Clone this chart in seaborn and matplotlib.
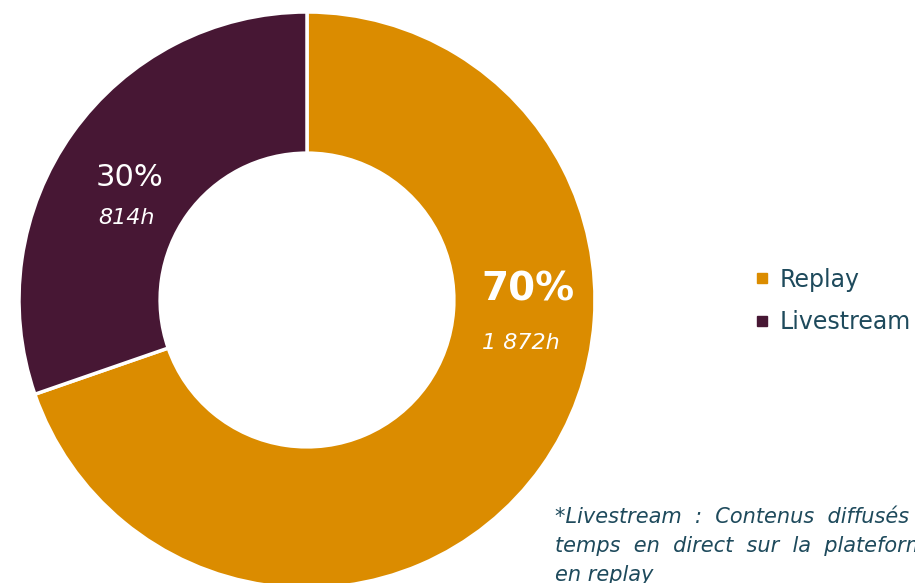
import matplotlib.pyplot as plt
import seaborn as sns
from matplotlib.lines import Line2D

categories = ['Replay', 'Livestream']
hours = [1872, 814]
pct_labels = ['70%', '30%']
hour_labels = ['1 872h', '814h']
footnote = ['*Livestream  :  Contenus  diffusés  en',
            'temps  en  direct  sur  la  plateforme  puis',
            'en replay']

sns.set_theme(style='white')
plt.rcParams['font.family'] = ['DejaVu Sans']
colors = ['#DB8C00', '#471734']
text_col = '#1E4A5C'

fig = plt.figure(figsize=(9.15, 5.83), dpi=100)
ax = fig.add_axes([19 / 915, -5 / 583, 576 / 915, 576 / 583])
ax.pie(hours, colors=colors, startangle=90, counterclock=False, radius=1,
       wedgeprops=dict(width=0.49, edgecolor='white', linewidth=2.5))
ax.set_xlim(-1, 1)
ax.set_ylim(-1, 1)
ax.set_aspect('equal')
ax.axis('off')

# value labels
ax.text(0.767, 0.035, pct_labels[0], color='white', fontsize=28, fontweight='bold',
        ha='center', va='center')
ax.text(0.743, -0.149, hour_labels[0], color='white', fontsize=16, style='italic',
        ha='center', va='center')
ax.text(-0.615, 0.424, pct_labels[1], color='white', fontsize=22,
        ha='center', va='center')
ax.text(-0.625, 0.285, hour_labels[1], color='white', fontsize=16, style='italic',
        ha='center', va='center')

handles = [Line2D([], [], marker='s', linestyle='', markersize=7, color=c) for c in colors]
fig.legend(handles, categories, loc='center left', bbox_to_anchor=(755 / 915, 1 - 301 / 583),
           frameon=False, fontsize=17, labelcolor=text_col, handlelength=0.6,
           handletextpad=0.45, labelspacing=0.8, borderpad=0, borderaxespad=0)

# footnote runs off the right edge, as in the original slide
for i, line in enumerate(footnote):
    fig.text(555 / 915, 1 - (517 + 29 * i) / 583, line, color=text_col, fontsize=15,
             style='italic', ha='left', va='center')

fig.savefig('out.png', dpi=100)
